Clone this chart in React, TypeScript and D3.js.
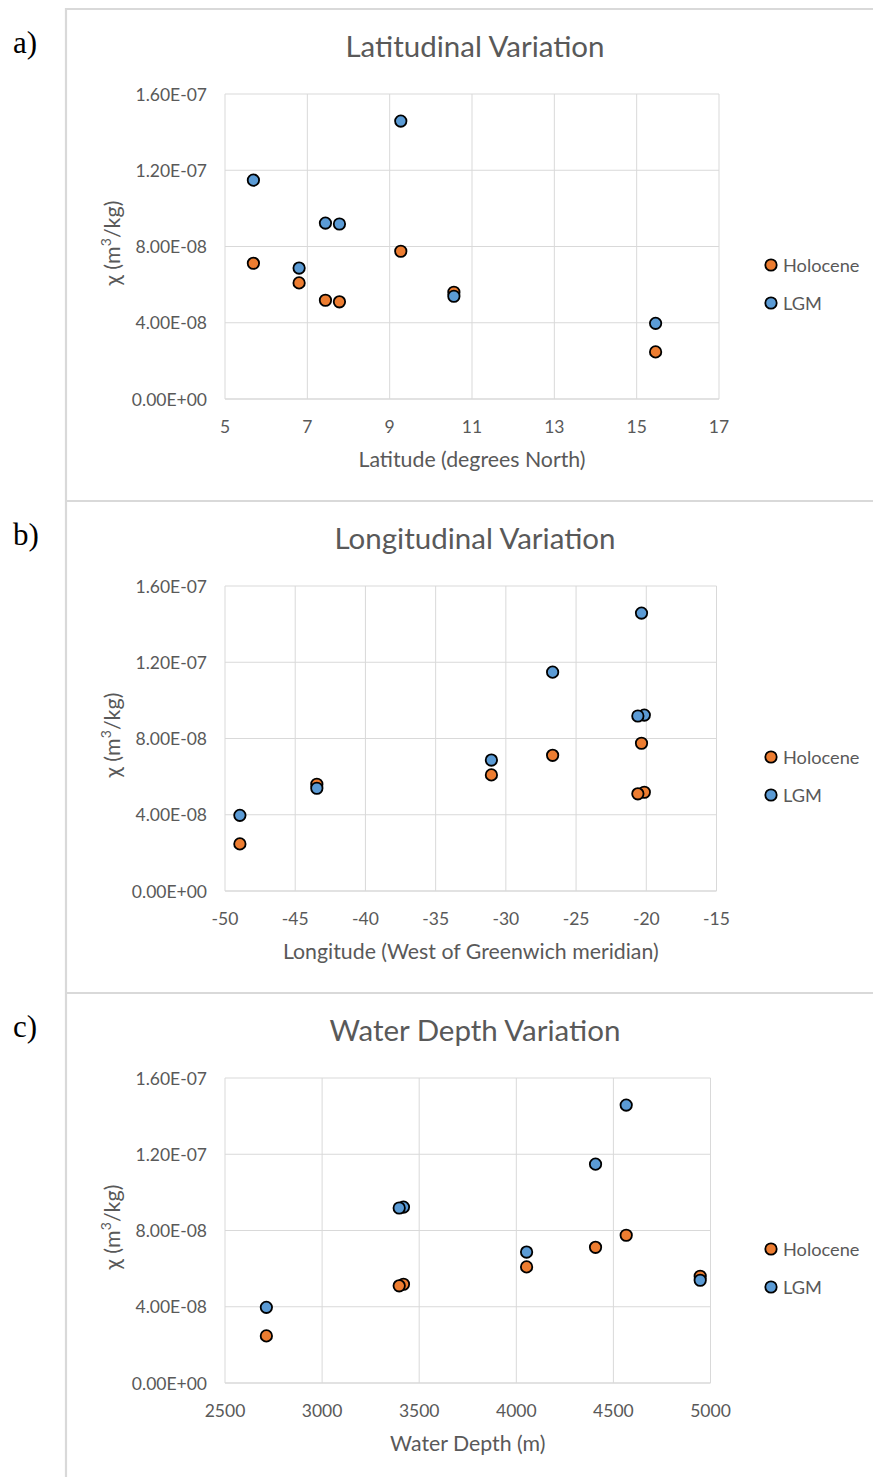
import React from "react";
import * as d3 from "d3";

const latitude = [5.69, 6.8, 7.44, 7.78, 9.27, 10.56, 15.46];
const longitude = [-26.67, -31.03, -20.14, -20.6, -20.34, -43.46, -48.94];
const waterDepth = [4408, 4053, 3419, 3397, 4566, 4947, 2713];
const holocene = [7.12e-8, 6.09e-8, 5.18e-8, 5.1e-8, 7.75e-8, 5.6e-8, 2.47e-8];
const lgm = [11.48e-8, 6.87e-8, 9.23e-8, 9.18e-8, 14.58e-8, 5.39e-8, 3.97e-8];
const yTicks = [0, 4e-8, 8e-8, 1.2e-7, 1.6e-7];
const latTicks = [5, 7, 9, 11, 13, 15, 17];
const lonTicks = [-50, -45, -40, -35, -30, -25, -20, -15];
const depthTicks = [2500, 3000, 3500, 4000, 4500, 5000];
const seriesNames = ["Holocene", "LGM"];
const seriesColors = ["#ED7D31", "#5B9BD5"];

const panels = [
  { letter: "a)", title: "Latitudinal Variation", xLabel: "Latitude (degrees North)", xs: latitude, ticks: latTicks, right: 719 },
  { letter: "b)", title: "Longitudinal Variation", xLabel: "Longitude (West of Greenwich meridian)", xs: longitude, ticks: lonTicks, right: 716.5 },
  { letter: "c)", title: "Water Depth Variation", xLabel: "Water Depth (m)", xs: waterDepth, ticks: depthTicks, right: 710.5 },
];

const yFmt = (v: number) => {
  const [m, e] = v.toExponential(2).split("e");
  const sign = e[0] === "-" ? "-" : "+";
  const d = e.replace(/[+-]/, "").padStart(2, "0");
  return `${m}E${sign}${d}`;
};

const FONT = "Lato, 'Open Sans', sans-serif";
const GREY = "#595959";
const GRID = "#d9d9d9";

function Panel({ p, top }: { p: typeof panels[number]; top: number }) {
  const left = 225;
  const plotTop = top + 85;
  const plotBottom = top + 390;
  const x = d3.scaleLinear().domain([p.ticks[0], p.ticks[p.ticks.length - 1]]).range([left, p.right]);
  const y = d3.scaleLinear().domain([0, 1.6e-7]).range([plotBottom, plotTop]);
  const series = [holocene, lgm];
  return (
    <g>
      <text x={13} y={top + 43.5} fontFamily="'Liberation Serif', 'Times New Roman', serif" fontSize={31} fill="#000">
        {p.letter}
      </text>
      <text x={475} y={top + 36.5} textAnchor="middle" dominantBaseline="central" fontFamily={FONT} fontSize={29.5} fill={GREY}>
        {p.title}
      </text>
      {yTicks.map((t) => (
        <line key={"h" + t} x1={left} x2={p.right} y1={y(t)} y2={y(t)} stroke={GRID} strokeWidth={t === 0 ? 1.5 : 1} />
      ))}
      {p.ticks.map((t) => (
        <line key={"v" + t} x1={x(t)} x2={x(t)} y1={plotTop} y2={plotBottom} stroke={GRID} strokeWidth={1} />
      ))}
      {yTicks.map((t) => (
        <text key={"yl" + t} x={207} y={y(t)} textAnchor="end" dominantBaseline="central" fontFamily={FONT} fontSize={17.5} fill={GREY}>
          {yFmt(t)}
        </text>
      ))}
      {p.ticks.map((t) => (
        <text key={"xl" + t} x={x(t)} y={plotBottom + 27} textAnchor="middle" dominantBaseline="central" fontFamily={FONT} fontSize={17.5} fill={GREY}>
          {String(t)}
        </text>
      ))}
      <text
        transform={`translate(112, ${top + 234}) rotate(-90)`}
        textAnchor="middle"
        dominantBaseline="central"
        fontFamily={FONT}
        fontSize={21.5}
        fill={GREY}
      >
        χ (m<tspan dy={-7} fontSize={14}>3</tspan>
        <tspan dy={7}>/kg)</tspan>
      </text>
      <text x={(left + p.right) / 2} y={plotBottom + 60} textAnchor="middle" dominantBaseline="central" fontFamily={FONT} fontSize={21.3} fill={GREY}>
        {p.xLabel}
      </text>
      {series.map((vals, si) => (
        <g key={"s" + si}>
          {vals.map((v, i) => (
            <circle key={i} cx={x(p.xs[i])} cy={y(v)} r={5.7} fill={seriesColors[si]} stroke="#000" strokeWidth={1.8} />
          ))}
        </g>
      ))}
      {seriesNames.map((n, si) => (
        <g key={"lg" + si}>
          <circle cx={771} cy={top + 256 + si * 38} r={5.7} fill={seriesColors[si]} stroke="#000" strokeWidth={1.8} />
          <text x={783} y={top + 256 + si * 38} dominantBaseline="central" fontFamily={FONT} fontSize={18.2} fill={GREY}>
            {n}
          </text>
        </g>
      ))}
    </g>
  );
}

export default function App() {
  const tops = [9, 501, 993];
  return (
    <svg width={873} height={1477} style={{ position: "absolute", left: 0, top: 0, background: "#fff" }}>
      <rect x={0} y={0} width={873} height={1477} fill="#fff" />
      {panels.map((p, i) => (
        <Panel key={i} p={p} top={tops[i]} />
      ))}
      <line x1={66} x2={66} y1={8} y2={1477} stroke={GRID} strokeWidth={2.2} />
      {tops.map((t) => (
        <line key={t} x1={65} x2={873} y1={t} y2={t} stroke={GRID} strokeWidth={2.2} />
      ))}
    </svg>
  );
}
